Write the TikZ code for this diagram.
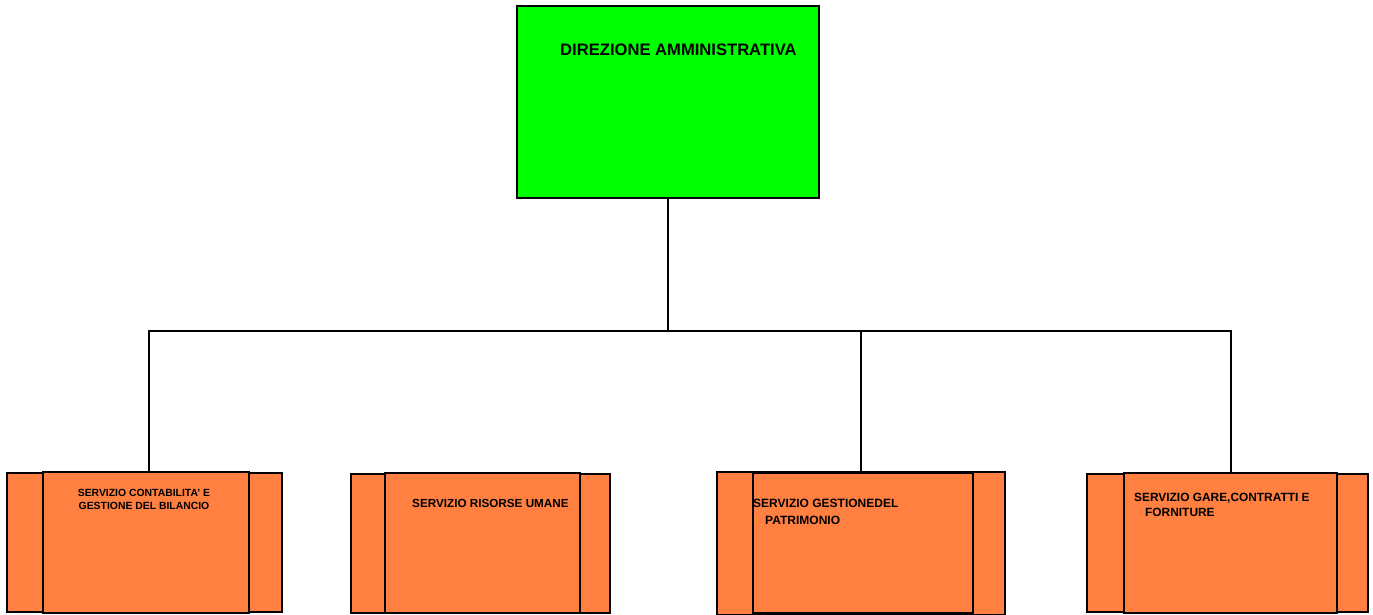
\documentclass[tikz,border=0pt]{standalone}
\usepackage{fontspec}
\setmainfont{Liberation Sans}
\definecolor{headgreen}{RGB}{0,255,0}
\definecolor{unitorange}{RGB}{255,128,64}
\begin{document}
\begin{tikzpicture}[x=1pt,y=-1pt,
  headbox/.style={draw=black,line width=2pt,fill=headgreen,inner sep=0pt,minimum width=302pt,minimum height=192pt},
  wingbox/.style={draw=black,line width=1.2pt,fill=unitorange,inner sep=0pt},
  unitbox/.style={draw=black,line width=1.3pt,fill=unitorange,inner sep=0pt},
  label/.style={inner sep=0pt,anchor=base west,font=\bfseries},
  link/.style={line width=2pt,line cap=rect}]
\useasboundingbox[fill=white] (0,0) rectangle (1373,615);

% head office
\node[headbox] (dir) at (668,102) {};
\node[label,font=\bfseries\fontsize{16.6}{19}\selectfont] (dirt) at (560,56) {DIREZIONE AMMINISTRATIVA};

% unit 1
\node[wingbox,minimum width=275pt,minimum height=139pt] (w1) at (144.5,542.5) {};
\node[unitbox,minimum width=206pt,minimum height=141pt] (s1) at (146,542.5) {};
\node[inner sep=0pt,anchor=base,font=\bfseries\fontsize{10.4}{13}\selectfont] (t1a) at (144,496.7) {SERVIZIO CONTABILITA' E};
\node[inner sep=0pt,anchor=base,font=\bfseries\fontsize{10.4}{13}\selectfont] (t1b) at (144,509.7) {GESTIONE DEL BILANCIO};

% unit 2
\node[wingbox,minimum width=259pt,minimum height=139pt] (w2) at (480.5,543.5) {};
\node[unitbox,minimum width=195pt,minimum height=140pt] (s2) at (482.5,543) {};
\node[label,font=\bfseries\fontsize{11.7}{14}\selectfont] (t2) at (412,507.3) {SERVIZIO RISORSE UMANE};

% unit 3
\node[wingbox,minimum width=288pt,minimum height=143pt] (w3) at (861,543.5) {};
\node[unitbox,minimum width=220pt,minimum height=140pt] (s3) at (863,543) {};
\node[label,font=\bfseries\fontsize{12}{14}\selectfont] (t3a) at (753,507.3) {SERVIZIO GESTIONEDEL};
\node[label,font=\bfseries\fontsize{12}{14}\selectfont] (t3b) at (765,524.3) {PATRIMONIO};

% unit 4
\node[wingbox,minimum width=281pt,minimum height=138pt] (w4) at (1227.5,543) {};
\node[unitbox,minimum width=213pt,minimum height=140pt] (s4) at (1230.5,543) {};
\node[label,font=\bfseries\fontsize{11.9}{14}\selectfont] (t4a) at (1134,501.3) {SERVIZIO GARE,CONTRATTI E};
\node[label,font=\bfseries\fontsize{11.9}{14}\selectfont] (t4b) at (1145,516.3) {FORNITURE};

% connectors
\coordinate (bus) at (668,331);
\draw[link] (dir.south) -- (bus);
\draw[link] ([xshift=3pt]s1.north) |- (bus);
\draw[link] (bus) -| ([xshift=-2pt]s3.north);
\draw[link] (bus) -| ([xshift=0.5pt]s4.north);
\end{tikzpicture}
\end{document}
